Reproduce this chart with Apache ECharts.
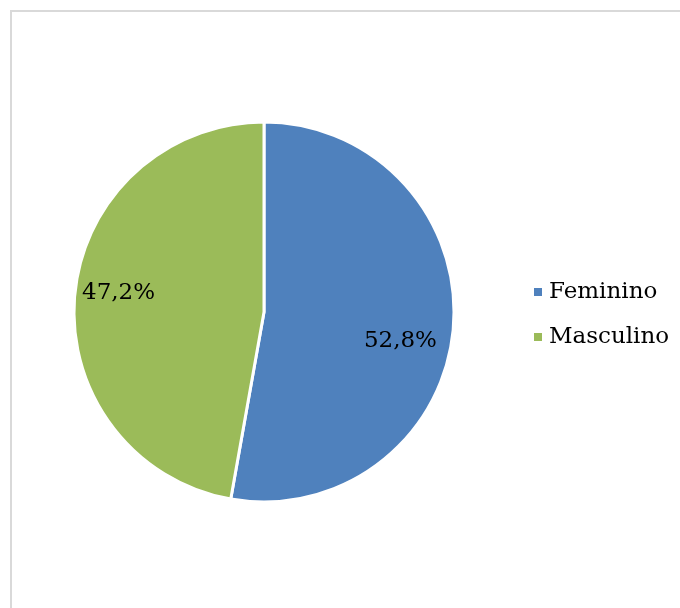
<!DOCTYPE html>
<html><head><meta charset="utf-8">
<script src="https://cdn.jsdelivr.net/npm/echarts@6/dist/echarts.min.js"></script>
<style>html,body{margin:0;padding:0;background:#fff}#c{width:680px;height:608px}</style>
</head><body><div id="c"></div>
<script>
const categories = ['Feminino', 'Masculino'];
const values = [52.8, 47.2];
const colors = ['#4F81BD', '#9BBB59'];
const labelTexts = ['52,8%', '47,2%'];

const data = categories.map((n, i) => ({ name: n, value: values[i], itemStyle: { color: colors[i] } }));
const chart = echarts.init(document.getElementById('c'), null, { renderer: 'canvas' });
const font = 'DejaVu Serif';
const labelShift = [[-9, 16], [0, -6]];
chart.setOption({
  animation: false,
  graphic: [{ type: 'rect', shape: { x: 11, y: 11, width: 720, height: 640 }, style: { fill: 'none', stroke: '#d9d9d9', lineWidth: 2 }, silent: true }],
  legend: {
    orient: 'vertical', left: 527, top: 275,
    itemWidth: 10, itemHeight: 10, itemGap: 21, icon: 'rect',
    textStyle: { fontFamily: font, fontSize: 23, lineHeight: 24, color: '#000', padding: [0, 0, 0, 1] },
    data: categories
  },
  series: [{
    type: 'pie', center: [264, 312], radius: 190, startAngle: 90, clockwise: true,
    itemStyle: { borderColor: '#fff', borderWidth: 3 },
    label: { show: false }, labelLine: { show: false },
    data: data
  }, {
    type: 'pie', center: [264, 312], radius: [96, 190], startAngle: 90, clockwise: true,
    silent: true, legendHoverLink: false,
    itemStyle: { color: 'rgba(0,0,0,0)' },
    label: { show: true, position: 'inside', fontFamily: font, fontSize: 23, color: '#000',
      formatter: p => labelTexts[p.dataIndex] },
    labelLayout: p => ({ dx: labelShift[p.dataIndex][0], dy: labelShift[p.dataIndex][1] }),
    labelLine: { show: false },
    data: categories.map((n, i) => ({ name: n + ' ', value: values[i] }))
  }]
});
</script></body></html>
